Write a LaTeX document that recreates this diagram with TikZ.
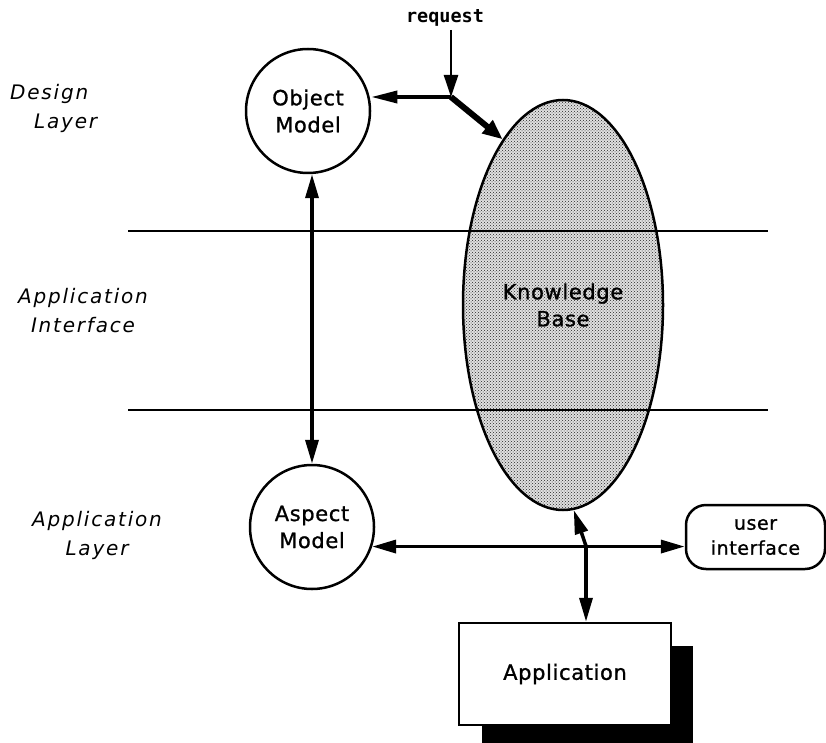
\documentclass[tikz,border=0pt]{standalone}
\usepackage{fontspec}
\setmainfont[LetterSpace=3,FakeBold=1]{DejaVu Sans}
\newfontfamily\lblfont[LetterSpace=9]{DejaVu Sans}
\newfontfamily\reqfont{DejaVu Sans Mono}
\usetikzlibrary{arrows.meta,shapes.geometric,patterns}
\begin{document}
\begin{tikzpicture}[x=1pt,y=-1pt,
  lbl/.style={font=\lblfont\fontsize{20}{29}\selectfont\itshape, align=center, inner sep=0pt},
  txt/.style={font=\fontsize{21}{27}\selectfont, align=center},
  circ/.style={circle, draw, line width=2.5pt, minimum size=124pt, inner sep=0pt, txt},
  tipA/.style={-{Triangle[length=24pt,width=13pt]}},
  tipB/.style={{Triangle[length=24pt,width=13pt]}-{Triangle[length=24pt,width=13pt]}},
  conn/.style={line width=3.5pt}]
\useasboundingbox (0,0) rectangle (826,743);

% Knowledge base
\node[ellipse, draw, line width=2.5pt, minimum width=200pt, minimum height=410pt,
      preaction={fill=black!12},
      pattern=crosshatch dots, pattern color=black!85, inner sep=0pt, txt] (kb) at (563,305) {Knowledge\\Base};

% layer lines
\draw[line width=2pt] (128,231) -- (768,231);
\draw[line width=2pt] (128,410) -- (768,410);

% circles
\node[circ] (om) at (308,111) {Object\\Model};
\node[circ] (am) at (312,527) {Aspect\\Model};

% user interface
\node[draw, rounded corners=20pt, line width=2.5pt, minimum width=139pt, minimum height=64pt,
      font=\fontsize{19}{25}\selectfont, align=center] (ui) at (755.5,537) {user\\interface};

% application with shadow
\fill (482,646) rectangle (693,748);
\node[draw, line width=2.5pt, minimum width=212pt, minimum height=102pt, fill=white, txt] (app) at (565,674) {Application};

% layer labels
\node[lbl, align=left, anchor=west] (dl) at (10,108) {Design\\\hspace*{24pt}Layer};
\node[lbl] (ai) at (83,311) {Application\\Interface};
\node[lbl] (al) at (97,535) {Application\\Layer};

% request
\node[font=\reqfont\bfseries\fontsize{18.5}{22}\selectfont] (req) at (445,18) {request};
\coordinate (j) at (451,97);
\draw[line width=2.5pt, -{Triangle[length=22pt,width=14pt]}] (req.south -| j) -- (j);
\draw[conn, -{Triangle[length=26pt,width=12pt]}] (j) -- (om.east |- j);
\draw[line width=6pt, -{Triangle[length=20pt,width=16pt]}] (j) -- (kb.110);

% object model <-> aspect model
\draw[conn, tipB] (om.south -| am.north) -- (am.north);

% bottom connections
\coordinate (h) at (586,546);
\draw[conn, tipB] (am.-18) -- (ui.west |- am.-18);
\draw[conn, tipA] (h) -- (kb.-87);
\draw[conn, tipA] (h) -- (app.north -| h);
\end{tikzpicture}
\end{document}
